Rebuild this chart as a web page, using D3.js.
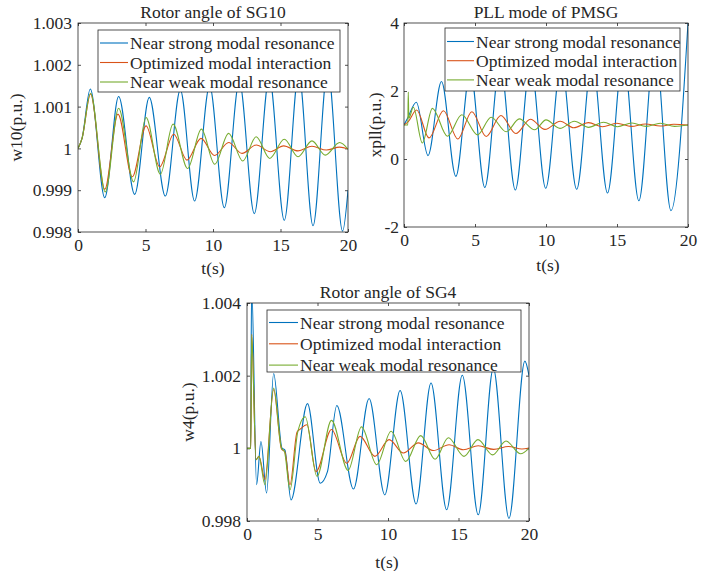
<!DOCTYPE html>
<html>
<head>
<meta charset="utf-8">
<script src="https://cdn.jsdelivr.net/npm/d3@7"></script>
<style>
body{margin:0;background:#fff;}
svg text{font-family:"Liberation Serif","Times New Roman",serif;fill:#262626;}
</style>
</head>
<body>
<svg id="chart" width="720" height="571"></svg>
<script>
var seriesNames = ["Near strong modal resonance", "Optimized modal interaction", "Near weak modal resonance"];
var seriesColors = ["#0072BD", "#D95319", "#77AC30"];
var xTicks = [0, 5, 10, 15, 20];
var sg10Ticks = [0.998, 0.999, 1, 1.001, 1.002, 1.003];
var pllTicks = [-2, 0, 2, 4];
var sg4Ticks = [0.998, 1, 1.002, 1.004];

// [t(s), value] (extrema + a few shape points)
var sg10Strong = [[0,1],[0.3,1.00024],[0.91,1.00142],[1.98,0.99882],[3.01,1.00124],[4.2,0.9989],[5.28,1.00122],[6.47,0.99886],[7.58,1.0014],[8.64,0.99874],[9.75,1.0015],[10.84,0.99858],[11.95,1.0016],[13.06,0.99844],[14.17,1.0017],[15.28,0.99828],[16.35,1.0018],[17.41,0.99815],[18.5,1.0019],[19.6,0.99802],[20,0.999]];
var sg10Opt = [[0,1],[0.3,1.00024],[0.93,1.0013],[1.98,0.99902],[2.96,1.00082],[4.02,0.99932],[5.04,1.00054],[6.05,0.99956],[7.09,1.00034],[8.07,0.99972],[9.11,1.00024],[10.12,0.99983],[11.16,1.00014],[12.15,0.99988],[13.2,1.00008],[14.25,0.99992],[15.23,1.00006],[16.3,0.99994],[17.33,1.00005],[18.4,0.99996],[19.38,1.00003],[20,0.99999]];
var sg10Weak = [[0,1],[0.3,1.00024],[0.93,1.00132],[2.02,0.99896],[3.01,1.00096],[4.12,0.9992],[5.04,1.00074],[6.1,0.99938],[7.04,1.00058],[8.12,0.99952],[9.14,1.00046],[10.12,0.99962],[11.16,1.00036],[12.2,0.9997],[13.2,1.00028],[14.2,0.99976],[15.28,1.00022],[16.3,0.9998],[17.33,1.00018],[18.32,0.99984],[19.38,1.00014],[20,0.99998]];

var pllStrong = [[0,1],[0.25,1.2],[0.87,1.67],[1.69,0.1],[2.64,2.28],[3.65,-0.51],[4.67,2.6],[5.69,-0.84],[6.77,2.85],[7.84,-0.91],[8.91,2.85],[9.98,-0.86],[11.07,2.85],[12.16,-0.89],[13.25,2.95],[14.33,-1.0],[15.44,3.1],[16.54,-1.23],[17.67,3.4],[18.8,-1.52],[20,4.0]];
var pllOpt = [[0,1],[0.3,1.1],[0.89,1.44],[1.76,0.62],[2.78,1.42],[3.79,0.59],[4.78,1.39],[5.79,0.66],[6.82,1.28],[7.88,0.75],[8.9,1.17],[9.93,0.87],[11.0,1.11],[11.95,0.92],[12.99,1.07],[13.98,0.95],[14.99,1.05],[16.0,0.96],[17.0,1.03],[18.05,0.97],[19.0,1.02],[20,1.0]];
var pllWeak = [[0,1],[0.27,1.0],[0.3,1.97],[0.34,1.2],[0.66,1.52],[1.29,0.47],[2.0,1.49],[3.06,0.67],[4.07,1.3],[5.18,0.71],[6.14,1.23],[7.2,0.8],[8.12,1.18],[9.2,0.86],[10.0,1.15],[10.98,0.9],[12.0,1.11],[13.0,0.93],[14.05,1.08],[15.03,0.95],[16.05,1.06],[17.06,0.96],[18.05,1.05],[19.06,0.96],[20,1.0]];

var sg4Strong = [[0,1],[0.25,1],[0.33,1.0045],[0.68,0.999],[0.99,1.00019],[1.39,0.99877],[1.89,1.00206],[2.48,1.00001],[2.69,0.99995],[3.12,0.99858],[4.29,1.00123],[5.19,0.99904],[5.7,0.99935],[6.37,1.00118],[7.55,0.99888],[8.66,1.00137],[9.77,0.99872],[10.86,1.00159],[11.99,0.99847],[13.05,1.0018],[14.16,0.99831],[15.27,1.00201],[16.4,0.99817],[17.47,1.0022],[18.58,0.99807],[19.71,1.0024],[20,1.002]];
var sg4Opt = [[0,1],[0.27,1],[0.33,1.00314],[0.64,0.99969],[0.85,0.99978],[1.27,0.99914],[1.89,1.00162],[2.45,0.99998],[2.69,0.9999],[3.05,0.999],[3.55,1.00045],[3.75,1.00052],[4.25,1.00065],[4.89,0.99936],[5.99,1.00052],[7.08,0.99959],[8.02,1.00033],[9.07,0.99978],[10.08,1.00024],[11.09,0.99987],[12.15,1.00015],[13.22,0.99994],[14.33,1.0001],[15.34,0.99996],[16.4,1.00007],[17.5,0.99997],[18.54,1.00005],[19.5,0.99998],[20,1.00001]];
var sg4Weak = [[0,1],[0.27,1],[0.33,1.00313],[0.64,0.99969],[0.85,0.99978],[1.27,0.999],[1.89,1.00166],[2.45,1.0],[2.65,0.99992],[3.05,0.99886],[3.6,1.00045],[4.13,1.00087],[4.96,0.99923],[5.99,1.00077],[7.17,0.99939],[8.12,1.00059],[9.2,0.99955],[10.22,1.00047],[11.26,0.99964],[12.32,1.00035],[13.34,0.9997],[14.28,1.00029],[15.39,0.99978],[16.38,1.00024],[17.42,0.99982],[18.37,1.0002],[19.4,0.99985],[20,1.0]];

var svg = d3.select('#chart');
var axisColor = "#262626";
var fontSize = 17.5;

function drawPanel(cfg){
  var x = d3.scaleLinear().domain([0, 20]).range([cfg.x0, cfg.x1]);
  var y = d3.scaleLinear().domain(cfg.yDomain).range([cfg.y1, cfg.y0]);
  var g = svg.append('g');

  g.append('clipPath').attr('id', cfg.id + '-clip')
    .append('rect').attr('x', cfg.x0).attr('y', cfg.y0)
    .attr('width', cfg.x1 - cfg.x0).attr('height', cfg.y1 - cfg.y0);

  // axes, ticks pointing inward
  g.append('g').attr('transform', 'translate(0,' + cfg.y1 + ')')
    .call(d3.axisBottom(x).tickValues(xTicks).tickSize(-3).tickPadding(7).tickFormat(d3.format('d')));
  g.append('g').attr('transform', 'translate(0,' + cfg.y0 + ')')
    .call(d3.axisTop(x).tickValues(xTicks).tickSize(-3).tickFormat(''));
  g.append('g').attr('transform', 'translate(' + cfg.x0 + ',0)')
    .call(d3.axisLeft(y).tickValues(cfg.yTicks).tickSize(-3).tickPadding(cfg.yPad)
      .tickFormat(function(d){ return String(+d.toFixed(3)); }));
  g.append('g').attr('transform', 'translate(' + cfg.x1 + ',0)')
    .call(d3.axisRight(y).tickValues(cfg.yTicks).tickSize(-3).tickFormat(''));
  g.selectAll('.domain').remove();
  g.selectAll('.tick line').attr('stroke', axisColor).attr('stroke-width', 0.8);
  g.selectAll('.tick text').attr('font-size', fontSize).attr('fill', axisColor)
    .style('font-family', '"Liberation Serif", serif');

  var line = d3.line()
    .x(function(d){ return x(d[0]); })
    .y(function(d){ return y(d[1]); })
    .curve(d3.curveMonotoneX);

  var plot = g.append('g').attr('clip-path', 'url(#' + cfg.id + '-clip)');
  cfg.series.forEach(function(s, i){
    plot.append('path').datum(s)
      .attr('fill', 'none')
      .attr('stroke', seriesColors[i])
      .attr('stroke-width', 1.1)
      .attr('d', line);
  });

  g.append('rect').attr('x', cfg.x0).attr('y', cfg.y0)
    .attr('width', cfg.x1 - cfg.x0).attr('height', cfg.y1 - cfg.y0)
    .attr('fill', 'none').attr('stroke', axisColor).attr('stroke-width', 0.8);

  // titles
  g.append('text').attr('x', (cfg.x0 + cfg.x1) / 2).attr('y', cfg.y0 - 5)
    .attr('text-anchor', 'middle').attr('font-size', fontSize).text(cfg.title);
  g.append('text').attr('x', cfg.xLabelX).attr('y', cfg.xLabelY)
    .attr('text-anchor', 'middle').attr('font-size', fontSize).text('t(s)');
  g.append('text')
    .attr('transform', 'translate(' + cfg.yLabelX + ',' + (cfg.y0 + cfg.y1) / 2 + ') rotate(-90)')
    .attr('text-anchor', 'middle').attr('dominant-baseline', 'central')
    .attr('font-size', fontSize).text(cfg.yLabel);

  // legend
  var lg = cfg.legend;
  g.append('rect').attr('x', lg.x).attr('y', lg.y).attr('width', lg.w).attr('height', lg.h)
    .attr('fill', '#fff').attr('stroke', axisColor).attr('stroke-width', 0.8);
  seriesNames.forEach(function(name, i){
    var ry = lg.y + lg.first + i * lg.step;
    g.append('line').attr('x1', lg.x + 2).attr('x2', lg.x + 2 + lg.len)
      .attr('y1', ry).attr('y2', ry)
      .attr('stroke', seriesColors[i]).attr('stroke-width', 1.1);
    g.append('text').attr('x', lg.x + 4 + lg.len).attr('y', ry)
      .attr('dominant-baseline', 'central').attr('font-size', fontSize).text(name);
  });
}

drawPanel({
  id: 'p1', x0: 78, x1: 348, y0: 23, y1: 232,
  yDomain: [0.998, 1.003], yTicks: sg10Ticks, yPad: 6,
  series: [sg10Strong, sg10Opt, sg10Weak],
  title: 'Rotor angle of SG10', yLabel: 'w10(p.u.)',
  xLabelX: 213, xLabelY: 274, yLabelX: 16,
  legend: {x: 98, y: 30, w: 242, h: 62, first: 13, step: 19.5, len: 28}
});

drawPanel({
  id: 'p2', x0: 404, x1: 688, y0: 23, y1: 227,
  yDomain: [-2, 4], yTicks: pllTicks, yPad: 5,
  series: [pllStrong, pllOpt, pllWeak],
  title: 'PLL mode of PMSG', yLabel: 'xpll(p.u.)',
  xLabelX: 548, xLabelY: 271, yLabelX: 375,
  legend: {x: 445, y: 28, w: 235, h: 63, first: 13.5, step: 19.2, len: 27}
});

drawPanel({
  id: 'p3', x0: 247, x1: 529, y0: 303, y1: 521,
  yDomain: [0.998, 1.004], yTicks: sg4Ticks, yPad: 6,
  series: [sg4Strong, sg4Opt, sg4Weak],
  title: 'Rotor angle of SG4', yLabel: 'w4(p.u.)',
  xLabelX: 387, xLabelY: 568, yLabelX: 188,
  legend: {x: 267, y: 310, w: 254, h: 62, first: 12.5, step: 21.3, len: 29}
});
</script>
</body>
</html>
